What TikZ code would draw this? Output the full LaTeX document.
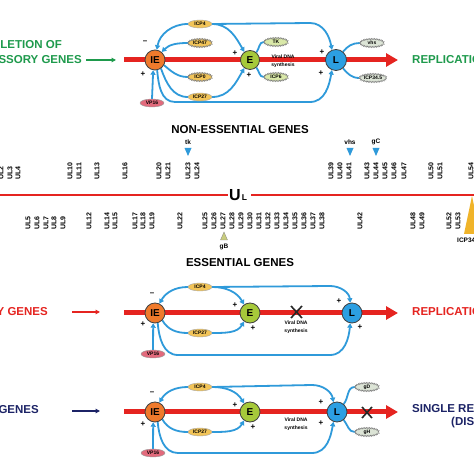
\documentclass[tikz,border=0pt]{standalone}
\usepackage{fontspec}
\setmainfont{Liberation Sans}
\usetikzlibrary{arrows.meta,decorations.pathmorphing,shapes.geometric}
\pgfdeclarelayer{bg}
\pgfsetlayers{bg,main}
\definecolor{redl}{HTML}{E52420}
\definecolor{bluel}{HTML}{2F9ADA}
\definecolor{grn}{HTML}{1E9A4C}
\definecolor{navy}{HTML}{1C2366}
\definecolor{ieor}{HTML}{EF7A2C}
\definecolor{egr}{HTML}{A6C93A}
\definecolor{lbl}{HTML}{2C9FE2}
\definecolor{icpy}{HTML}{F2C458}
\definecolor{tkg}{HTML}{D9E8A8}
\definecolor{vgr}{HTML}{DCE4D6}
\definecolor{vpk}{HTML}{E26A7C}
\definecolor{gbk}{HTML}{C9CC7E}
\definecolor{icpo}{HTML}{F0B42A}
\tikzset{
  fs/.style={font=\bfseries\fontsize{#1}{#1}\selectfont},
  stage/.style={circle, draw=black!75, line width=0.8pt, inner sep=0pt, minimum size=20pt, fs=10},
  prot/.style={ellipse, inner sep=0pt, minimum width=24pt, minimum height=8pt, fs=5, draw=black!35, line width=0.4pt, fill=icpy},
  spiky/.style={prot, draw=gray, decorate, decoration={zigzag, segment length=1.6pt, amplitude=0.7pt}},
  redmain/.style={draw=redl, line width=5pt, -{Triangle[length=12pt,width=13pt]}},
  bline/.style={draw=bluel, line width=1.8pt},
  barrow/.style={bline, -{Triangle[length=4.5pt,width=5pt]}},
  sgn/.style={fs=8, inner sep=0pt},
  vtxt/.style={font=\bfseries\fontsize{5}{8}\selectfont, align=center, inner sep=0pt},
  gene/.style={fs=7, rotate=90, anchor=west, inner sep=0pt},
  ttl/.style={fs=11.5, inner sep=0pt},
  sidearrow/.style={line width=1.5pt, -{Triangle[length=4.5pt,width=4.5pt]}},
  xmark/.style={line width=1.6pt, draw=black!85},
  tri/.style={fs=6.5, inner sep=0pt}
}
\begin{document}
\begin{tikzpicture}[x=1pt,y=1pt]
\useasboundingbox (0,0) rectangle (474,474);
\begin{pgfonlayer}{bg}
\fill[white] (0,0) rectangle (474,474);
\end{pgfonlayer}
\clip (0,0) rectangle (474,474);

% ================= PANEL 1 =================
\node[stage, fill=ieor] (aIE) at (155,414) {IE};
\node[stage, fill=egr, minimum size=19pt] (aE) at (250,414) {E};
\node[stage, fill=lbl, minimum size=21pt] (aL) at (336,414) {L};
\coordinate (aS) at (124,414);
\coordinate (aT) at (398,414);
\node[prot] (aICP4) at (200,450) {ICP4};
\node[spiky] (aICP47) at (200,431) {ICP47};
\node[spiky] (aICP0) at (200,397) {ICP0};
\node[prot] (aICP27) at (200,377) {ICP27};
\node[prot, fill=vpk, draw=black!40] (aVP16) at (152,371) {VP16};
\node[spiky, fill=tkg] (aTK) at (276,432) {TK};
\node[spiky, fill=tkg] (aICP6) at (276,397) {ICP6};
\node[spiky, fill=vgr] (avhs) at (372,431) {vhs};
\node[spiky, fill=vgr, minimum width=27pt] (aICP345) at (373,396) {ICP34.5};
\begin{pgfonlayer}{bg}
\draw[redmain] (aS) -- (aT);
\draw[barrow] (aICP4.west) to[out=180,in=80] (aIE.80);
\draw[barrow] (aICP47.west) to[out=180,in=45] (aIE.50);
\draw[bline] (aIE.-30) to[out=-40,in=180] (aICP0.west);
\draw[bline] (aIE.-55) to[out=-70,in=180] (aICP27.west);
\draw[barrow] (aICP4.east) to[out=0,in=120] (aE.125);
\draw[barrow] (aICP27.east) to[out=0,in=-120] (aE.-125);
\draw[barrow] (aICP4.east) -- (310,451) to[out=0,in=100] (aL.112);
\draw[barrow] (aIE.-78) to[out=-85,in=180] (175,372) -- (310,372) to[out=0,in=-100] (aL.-112);
\draw[bline] (aE.50) to[out=50,in=180] (aTK.west);
\draw[bline] (aE.-50) to[out=-50,in=180] (aICP6.west);
\draw[bline] (aL.50) to[out=50,in=180] (avhs.west);
\draw[bline] (aL.-50) to[out=-50,in=180] (aICP345.west);
\draw[barrow] (aVP16.north) -- (aIE.-100);
\end{pgfonlayer}
\node[sgn] (am1) at (145,432) {--};
\node[sgn] (ap1) at (143,400) {+};
\node[sgn] (ap2) at (235,421) {+};
\node[sgn] (ap3) at (249,399) {+};
\node[sgn] (ap4) at (322,422) {+};
\node[sgn] (ap5) at (321,401) {+};
\node[vtxt] (avd) at (283,413) {Viral DNA\\synthesis};
\node[ttl, text=grn, anchor=east] (at1) at (62,429) {DELETION OF};
\node[ttl, text=grn, anchor=east] (at2) at (82,414) {ACCESSORY GENES};
\coordinate (aA1) at (86,414);
\coordinate (aA2) at (116,414);
\draw[sidearrow, grn] (aA1) -- (aA2);
\node[ttl, text=grn, anchor=west] (ar) at (412,414) {REPLICATION};

% ================= MIDDLE MAP =================
\node[ttl] (ne) at (240,344) {NON-ESSENTIAL GENES};
\node[ttl] (es) at (240,211) {ESSENTIAL GENES};
\coordinate (m0) at (0,279);
\coordinate (m1) at (228,279);
\coordinate (m2) at (251,279);
\coordinate (m3) at (474,279);
\draw[redl, line width=1.5pt] (m0) -- (m1);
\draw[redl, line width=1.5pt] (m2) -- (m3);
\node[fs=16, inner sep=0pt] (U) at (235,279) {U};
\node[fs=8.5, inner sep=0pt] (Lsub) at (244.5,276) {L};
\foreach \n/\x in {2/1,3/10,4/18,10/70,11/79,13/97,16/125,20/159,21/168,23/188,24/197,39/331,40/340,41/349,43/367,44/376,45/385,46/394,47/404,50/431,51/440,54/471}
  \node[gene] at (\x,294) {UL\n};
\foreach \n/\x in {5/28,6/37,7/46,8/54,9/63,12/89,14/107,15/115,17/135,18/143,19/152,22/180,25/205,26/214,27/223,28/232,29/241,30/250,31/259,32/268,33/277,34/286,35/295,36/304,37/313,38/322,42/360,48/413,49/422,52/449,53/458}
  \node[gene] at (\x,244) {UL\n};
\fill[bluel] (184.5,326) -- (191.5,326) -- (188,318) -- cycle;
\node[tri] (tk) at (188,332) {tk};
\fill[bluel] (346.5,326) -- (353.5,326) -- (350,318) -- cycle;
\node[tri] (vhs) at (350,332) {vhs};
\fill[bluel] (372.5,326) -- (379.5,326) -- (376,318) -- cycle;
\node[tri] (gC) at (376,332) {gC};
\filldraw[fill=gbk, draw=black!50, line width=0.3pt] (220.5,234) -- (227.5,234) -- (224,242) -- cycle;
\node[tri] (gB) at (224,227) {gB};
\fill[icpo] (472,278) -- (464,240) -- (480,240) -- cycle;
\node[tri, anchor=west] (icpt) at (457,233.5) {ICP34.5};

% ================= PANEL 2 =================
\node[stage, fill=ieor] (bIE) at (155,161) {IE};
\node[stage, fill=egr] (bE) at (250,161) {E};
\node[stage, fill=lbl] (bL) at (352,161) {L};
\coordinate (bS) at (124,161);
\coordinate (bT) at (398,161);
\node[prot] (bICP4) at (200,187) {ICP4};
\node[prot] (bICP27) at (200,141) {ICP27};
\node[prot, fill=vpk, draw=black!40] (bVP16) at (153,120) {VP16};
\begin{pgfonlayer}{bg}
\draw[redmain] (bS) -- (bT);
\draw[barrow] (bICP4.west) to[out=180,in=60] (bIE.65);
\draw[barrow] (bICP4.east) to[out=0,in=120] (bE.125);
\draw[barrow] (bICP4.east) -- (330,188) to[out=0,in=95] (bL.100);
\draw[bline] (bIE.-45) to[out=-60,in=180] (bICP27.west);
\draw[barrow] (bICP27.east) to[out=0,in=-120] (bE.-125);
\draw[barrow] (bIE.-75) to[out=-85,in=180] (178,119) -- (330,119) to[out=0,in=-95] (bL.-100);
\draw[barrow] (bVP16.north) -- (bIE.-100);
\end{pgfonlayer}
\coordinate (bX1) at (291,168); \coordinate (bX2) at (302,156);
\coordinate (bX3) at (291,156); \coordinate (bX4) at (302,168);
\draw[xmark] (bX1) -- (bX2);
\draw[xmark] (bX3) -- (bX4);
\node[sgn] (bm1) at (152,180) {--};
\node[sgn] (bp1) at (143,150) {+};
\node[sgn] (bp2) at (235,169) {+};
\node[sgn] (bp3) at (253,146) {+};
\node[sgn] (bp4) at (339,173) {+};
\node[sgn] (bp5) at (360,147) {+};
\node[vtxt] (bvd) at (296,147) {Viral DNA\\synthesis};
\node[ttl, text=redl, anchor=east] (bt1) at (48,162) {Y GENES};
\coordinate (bA1) at (72,162);
\coordinate (bA2) at (100,162);
\draw[sidearrow, redl] (bA1) -- (bA2);
\node[ttl, text=redl, anchor=west] (br) at (412,162) {REPLICATION};

% ================= PANEL 3 =================
\node[stage, fill=ieor] (cIE) at (155,62) {IE};
\node[stage, fill=egr] (cE) at (250,62) {E};
\node[stage, fill=lbl] (cL) at (337,62) {L};
\coordinate (cS) at (124,62);
\coordinate (cT) at (398,62);
\node[prot] (cICP4) at (200,87) {ICP4};
\node[prot] (cICP27) at (200,42) {ICP27};
\node[prot, fill=vpk, draw=black!40] (cVP16) at (153,21) {VP16};
\node[spiky, fill=vgr] (cgD) at (367,87) {gD};
\node[spiky, fill=vgr] (cgH) at (367,42) {gH};
\begin{pgfonlayer}{bg}
\draw[redmain] (cS) -- (cT);
\draw[barrow] (cICP4.west) to[out=180,in=60] (cIE.65);
\draw[barrow] (cICP4.east) to[out=0,in=120] (cE.125);
\draw[barrow] (cICP4.east) -- (312,89) to[out=0,in=100] (cL.110);
\draw[bline] (cIE.-45) to[out=-60,in=180] (cICP27.west);
\draw[barrow] (cICP27.east) to[out=0,in=-120] (cE.-125);
\draw[barrow] (cIE.-75) to[out=-85,in=180] (178,21) -- (312,21) to[out=0,in=-100] (cL.-110);
\draw[bline] (cL.50) to[out=50,in=180] (cgD.west);
\draw[bline] (cL.-50) to[out=-50,in=180] (cgH.west);
\draw[barrow] (cVP16.north) -- (cIE.-100);
\end{pgfonlayer}
\coordinate (cX1) at (362,67); \coordinate (cX2) at (372,56);
\coordinate (cX3) at (362,56); \coordinate (cX4) at (372,67);
\draw[xmark] (cX1) -- (cX2);
\draw[xmark] (cX3) -- (cX4);
\node[sgn] (cm1) at (152,81) {--};
\node[sgn] (cp1) at (143,50) {+};
\node[sgn] (cp2) at (235,69) {+};
\node[sgn] (cp3) at (253,47) {+};
\node[sgn] (cp4) at (321,72) {+};
\node[sgn] (cp5) at (321,51) {+};
\node[vtxt] (cvd) at (296,50) {Viral DNA\\synthesis};
\node[ttl, text=navy, anchor=east] (ct1) at (39,64) {GENES};
\coordinate (cA1) at (72,63);
\coordinate (cA2) at (100,63);
\draw[sidearrow, navy] (cA1) -- (cA2);
\node[ttl, text=navy, anchor=west] (cr1) at (412,65) {SINGLE REPLICATION};
\node[ttl, text=navy, anchor=west] (cr2) at (451,51) {(DISC)};
\end{tikzpicture}
\end{document}
